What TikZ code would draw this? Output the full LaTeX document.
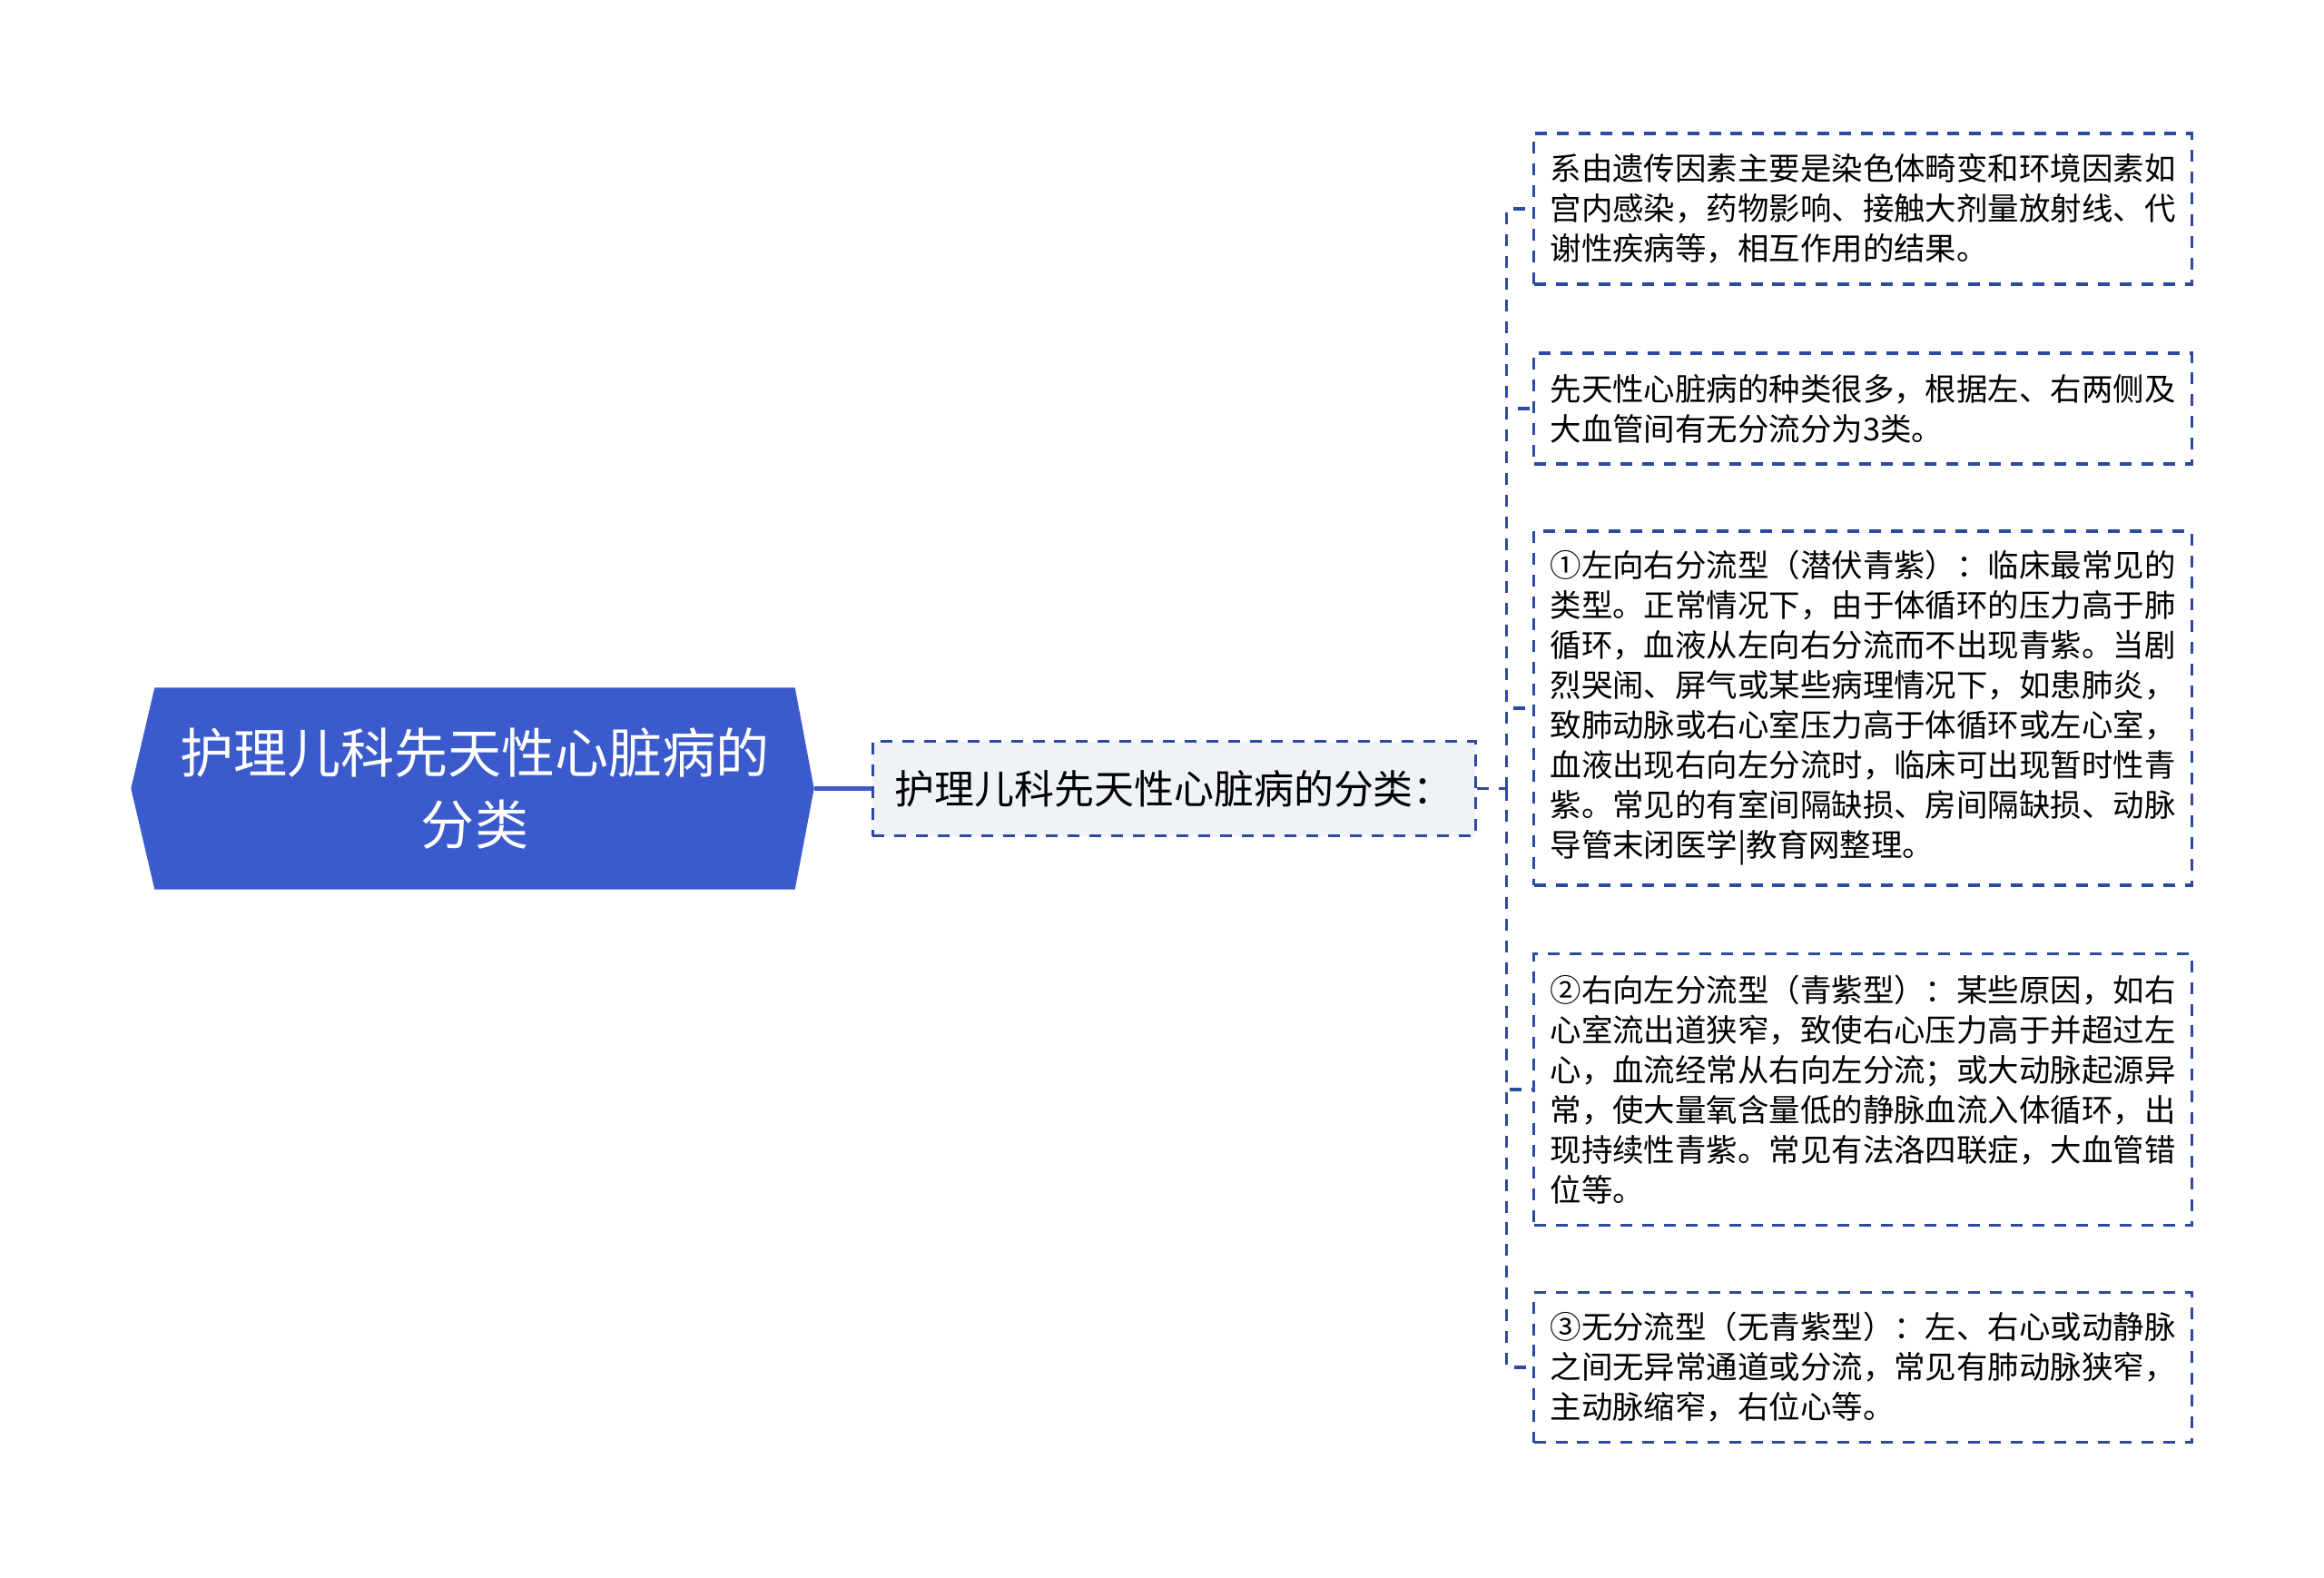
\documentclass[tikz,border=0pt]{standalone}
\usepackage{fontspec}
\setmainfont{Noto Sans CJK SC}
\usetikzlibrary{positioning,backgrounds}

\definecolor{rootblue}{RGB}{59,91,204}
\definecolor{linkblue}{RGB}{44,74,160}
\definecolor{midgray}{RGB}{239,242,246}

\tikzset{
    dashline/.style={draw=linkblue, line width=0.9pt, dash pattern=on 3.7pt off 3.1pt},
    rootnode/.style={minimum width=7.04cm, minimum height=2.21cm, inner sep=0pt, text=white, align=center, font=\fontsize{16.8}{22.3}\selectfont},
    midnode/.style={dashline, fill=midgray, minimum width=6.64cm, minimum height=1.04cm, inner sep=0pt, font=\fontsize{12.5}{15}\selectfont},
    leafnode/.style={dashline, anchor=west, text width=6.89cm, inner xsep=0.18cm, inner ysep=0pt, align=left, font=\fontsize{9.8}{12.52}\selectfont}
}

\begin{document}
\begin{tikzpicture}
    \useasboundingbox (0,0) rectangle (25.6,-17.38);

    % root and first level
    \node[rootnode] (root) at (5.23,-8.685) {护理儿科先天性心脏病的\\分类};
    \begin{scope}[on background layer]
        \fill[rootblue] (root.north west) -- (root.north east) -- ([xshift=0.21cm]root.east)
            -- (root.south east) -- (root.south west) -- ([xshift=-0.26cm]root.west) -- cycle;
    \end{scope}
    \node[midnode, right=0.84cm of root] (cls) {护理儿科先天性心脏病的分类：};
    \coordinate[right=0.33cm of cls] (spine);

    % leaves
    \node[leafnode, minimum height=1.66cm] (leaf1) at (16.88,-2.30) {系由遗传因素主要是染色体畸变和环境因素如\\宫内感染，药物影响、接触大剂量放射线、代\\谢性疾病等，相互作用的结果。};
    \node[leafnode, minimum height=1.22cm] (leaf2) at (16.88,-4.50) {先天性心脏病的种类很多，根据左、右两侧及\\大血管间有无分流分为3类。};
    \node[leafnode, minimum height=3.90cm] (leaf3) at (16.88,-7.80) {①左向右分流型（潜伏青紫）：临床最常见的\\类型。正常情况下，由于体循环的压力高于肺\\循环，血液从左向右分流而不出现青紫。当剧\\烈哭闹、屏气或某些病理情况下，如患肺炎，\\致肺动脉或右心室压力高于体循环或左心室，\\血液出现右向左分流时，临床可出现暂时性青\\紫。常见的有室间隔缺损、房间隔缺损、动脉\\导管末闭医学|教育网整理。};
    \node[leafnode, minimum height=2.99cm] (leaf4) at (16.88,-12.00) {②右向左分流型（青紫型）：某些原因，如右\\心室流出道狭窄，致使右心压力高于并超过左\\心，血流经常从右向左分流；或大动脉起源异\\常，使大量氧含量低的静脉血流入体循环，出\\现持续性青紫。常见有法洛四联症，大血管错\\位等。};
    \node[leafnode, minimum height=1.65cm] (leaf5) at (16.88,-15.06) {③无分流型（无青紫型）：左、右心或动静脉\\之间无异常通道或分流，常见有肺动脉狭窄，\\主动脉缩窄，右位心等。};

    % connectors
    \draw[rootblue, line width=1.2pt] ([xshift=0.21cm]root.east) -- (cls.west);
    \draw[dashline] (cls.east) -- (spine);
    \foreach \i in {1,...,5}
    {
        \draw[dashline] (spine) |- (leaf\i.west);
    }
\end{tikzpicture}
\end{document}
